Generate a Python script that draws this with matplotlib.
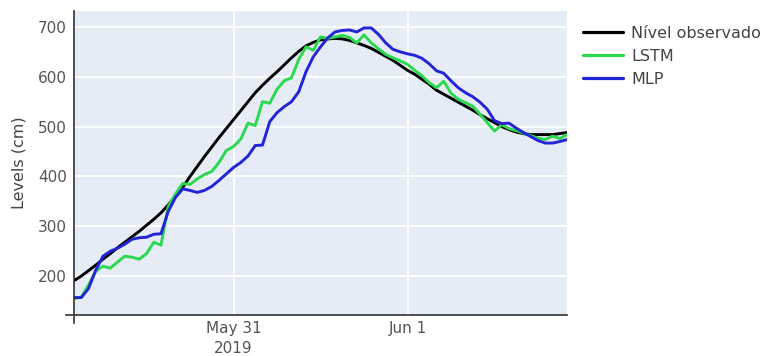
import matplotlib
matplotlib.use("Agg")
import matplotlib.pyplot as plt
from matplotlib.lines import Line2D
import pandas as pd

# Hourly series, 2019-05-30 02:00 .. 2019-06-01 22:00
times = pd.date_range("2019-05-30 02:00", periods=69, freq="h")

observed = [191, 200, 211, 222, 234, 245, 257, 268, 279, 290,
            302, 314, 327, 343, 360, 378, 400, 420, 440, 459,
            478, 496, 514, 532, 550, 568, 583, 597, 610, 624,
            638, 651, 662, 669, 674, 676, 677, 676, 673, 668,
            663, 657, 649, 641, 633, 623, 613, 605, 595, 585,
            573, 565, 557, 549, 541, 533, 524, 516, 508, 500,
            494, 489, 486, 484, 484, 484, 484, 486, 488]

lstm = [155, 158, 182, 210, 220, 216, 228, 240, 238, 234,
        245, 268, 262, 340, 365, 386, 384, 395, 404, 410,
        428, 452, 460, 475, 507, 502, 550, 547, 575, 592,
        598, 635, 660, 653, 680, 677, 680, 683, 679, 668,
        684, 668, 656, 645, 638, 632, 625, 613, 602, 588,
        578, 591, 567, 555, 548, 541, 525, 508, 491, 504,
        496, 492, 487, 482, 477, 474, 481, 476, 484]

mlp = [157, 157, 175, 212, 240, 250, 256, 264, 274, 277,
       278, 284, 285, 330, 358, 375, 372, 368, 372, 380,
       392, 405, 418, 428, 441, 462, 463, 510, 528, 540,
       550, 570, 610, 640, 660, 678, 690, 693, 694, 690,
       698, 698, 685, 668, 655, 650, 646, 643, 637, 626,
       612, 607, 592, 578, 568, 560, 549, 535, 512, 506,
       507, 497, 488, 480, 472, 467, 467, 470, 474]

series_names = ["Nível observado", "LSTM", "MLP"]
series_colors = ["#000000", "#2bd94f", "#2424d6"]

tick_dates = [pd.Timestamp("2019-05-31"), pd.Timestamp("2019-06-01")]
tick_labels = ["May 31\n2019", "Jun 1"]
y_ticks = [200, 300, 400, 500, 600, 700]

plt.rcParams["font.family"] = ["DejaVu Sans"]

W, H = 766, 356
fig = plt.figure(figsize=(W / 100, H / 100), dpi=100)
fig.patch.set_facecolor("white")
ax = fig.add_axes([74 / W, 1 - 315 / H, (567 - 74) / W, (315 - 11) / H])
ax.set_facecolor("#E5ECF6")

for vals, name, col in zip([observed, lstm, mlp], series_names, series_colors):
    ax.plot(times, vals, color=col, lw=2.1, label=name,
            solid_joinstyle="round", solid_capstyle="round")

ax.set_xlim(times[0], times[-1])
ax.set_ylim(122, 732)

ax.set_yticks(y_ticks)
ax.set_xticks(tick_dates)
ax.set_xticklabels(tick_labels, linespacing=1.45)
ax.tick_params(axis="both", length=0, labelsize=11, labelcolor="#555555")
ax.tick_params(axis="x", pad=4)
ax.tick_params(axis="y", pad=5)

ax.grid(True, color="white", lw=1.3)
ax.set_axisbelow(True)
for s in ax.spines.values():
    s.set_visible(False)

# axis lines crossing at the lower-left corner
ax.add_line(Line2D([-0.017, 1.0], [0, 0], transform=ax.transAxes,
                   color="#333333", lw=1.2, clip_on=False))
ax.add_line(Line2D([0, 0], [-0.027, 1.0], transform=ax.transAxes,
                   color="#333333", lw=1.2, clip_on=False))

ax.set_ylabel("Levels (cm)", fontsize=11.5, color="#444444", labelpad=8)

leg = ax.legend(loc="upper left", bbox_to_anchor=(575 / W, 1 - 18 / H),
                bbox_transform=fig.transFigure, frameon=False,
                fontsize=11.5, handlelength=2.5, handletextpad=0.5,
                labelspacing=0.5, borderpad=0)
for t in leg.get_texts():
    t.set_color("#444444")
for l in leg.get_lines():
    l.set_linewidth(2.3)

fig.savefig("out.png", dpi=100, facecolor="white")
